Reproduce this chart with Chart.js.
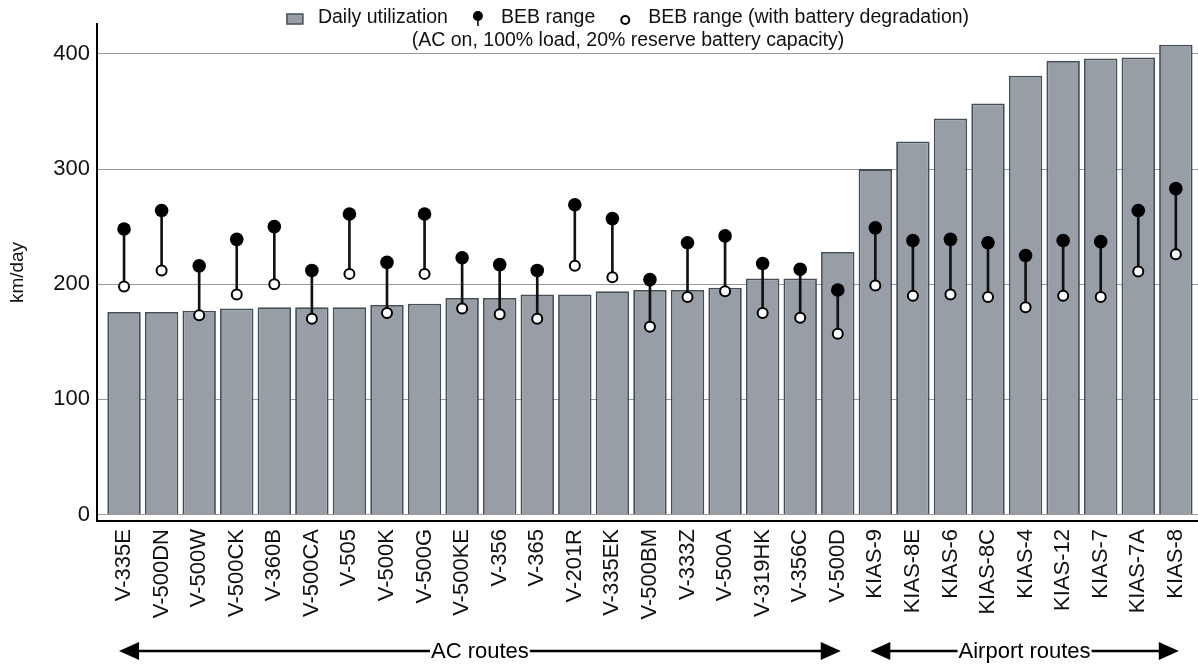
<!DOCTYPE html>
<html>
<head>
<meta charset="utf-8">
<title>Daily utilization and BEB range by route</title>
<script src="https://cdn.jsdelivr.net/npm/chart.js@4.4.0/dist/chart.umd.min.js"></script>
<style>
  html, body { margin: 0; padding: 0; background: #fff; overflow: hidden; }
  #wrap { position: relative; width: 1198px; height: 666px; }
  #chart { display: block; }
</style>
</head>
<body>
<div id="wrap"><canvas id="chart"></canvas></div>
<script>
// Routes, sorted by daily utilization (km/day)
const routes = [
    'V-335E', 'V-500DN', 'V-500W', 'V-500CK', 'V-360B', 'V-500CA', 'V-505',
    'V-500K', 'V-500G', 'V-500KE', 'V-356', 'V-365', 'V-201R', 'V-335EK',
    'V-500BM', 'V-333Z', 'V-500A', 'V-319HK', 'V-356C', 'V-500D',
    'KIAS-9', 'KIAS-8E', 'KIAS-6', 'KIAS-8C', 'KIAS-4', 'KIAS-12', 'KIAS-7',
    'KIAS-7A', 'KIAS-8'
];

const dailyKm = [
    176, 176, 177, 179, 180, 180, 180,
    182, 183, 188, 188, 191, 191, 194,
    195, 195, 197, 205, 205, 228,
    300, 324, 344, 357, 381, 394, 396,
    397, 408
];

const bebRange = [
    248, 264, 216, 239, 250, 212, 261,
    219, 261, 223, 217, 212, 269, 257,
    204, 236, 242, 218, 213, 195,
    249, 238, 239, 236, 225, 238, 237,
    264, 283
];

const bebRangeDegraded = [
    198, 212, 173, 191, 200, 170, 209,
    175, 209, 179, 174, 170, 216, 206,
    163, 189, 194, 175, 171, 157,
    199, 190, 191, 189, 180, 190, 189,
    211, 226
];

const yTickValues = [0, 100, 200, 300, 400];

const routeGroups = [
    { label: 'AC routes', from: 0, to: 19 },
    { label: 'Airport routes', from: 20, to: 28 }
];

const legendNote = '(AC on, 100% load, 20% reserve battery capacity)';

const FONT = '"Liberation Sans", Arial, Helvetica, sans-serif';
const INK = '#111';

const asPoints = (values) => values.map((v, i) => ({ x: i, y: v }));

// Legend drawn in the top margin (two rows, no layout space taken)
const topLegend = {
    id: 'topLegend',
    afterDraw(chart, args, opts) {
        const ctx = chart.ctx;
        const items = chart.data.datasets.filter(ds => ds.legendMark);
        ctx.save();
        ctx.font = `${opts.fontSize}px ${FONT}`;
        ctx.textBaseline = 'middle';
        ctx.fillStyle = INK;

        const widths = items.map(ds => ctx.measureText(ds.label).width);
        const total = widths.reduce((s, w) => s + opts.markWidth + opts.markGap + w, 0)
            + opts.itemGap * (items.length - 1);
        let x = opts.centerX - total / 2;
        const y = opts.rowY[0];

        items.forEach((ds, i) => {
            const mx = x + opts.markWidth / 2;
            if (ds.legendMark === 'box') {
                ctx.fillStyle = ds.backgroundColor;
                ctx.strokeStyle = ds.borderColor;
                ctx.lineWidth = 1.5;
                ctx.fillRect(x, y - 4, opts.markWidth, 10);
                ctx.strokeRect(x, y - 4, opts.markWidth, 10);
            } else if (ds.legendMark === 'pin') {
                ctx.strokeStyle = '#000';
                ctx.lineWidth = 1.5;
                ctx.beginPath();
                ctx.moveTo(mx, y - 2);
                ctx.lineTo(mx, y + 8);
                ctx.stroke();
                ctx.fillStyle = '#000';
                ctx.beginPath();
                ctx.arc(mx, y - 2, 5, 0, Math.PI * 2);
                ctx.fill();
            } else {
                ctx.fillStyle = '#fff';
                ctx.strokeStyle = '#000';
                ctx.lineWidth = 2;
                ctx.beginPath();
                ctx.arc(mx, y + 2, 4, 0, Math.PI * 2);
                ctx.fill();
                ctx.stroke();
            }
            x += opts.markWidth + opts.markGap;
            ctx.fillStyle = INK;
            ctx.textAlign = 'left';
            ctx.fillText(ds.label, x, y);
            x += widths[i] + opts.itemGap;
        });

        ctx.textAlign = 'center';
        ctx.fillText(opts.note, opts.centerX, opts.rowY[1]);
        ctx.restore();
    }
};

// Double-headed arrows under the route labels
const groupArrows = {
    id: 'groupArrows',
    afterDraw(chart, args, opts) {
        const ctx = chart.ctx;
        const xs = chart.scales.x;
        const y = opts.y;
        const head = 20, half = 9;
        ctx.save();
        ctx.font = `${opts.fontSize}px ${FONT}`;
        ctx.textAlign = 'center';
        ctx.textBaseline = 'middle';
        ctx.strokeStyle = '#000';
        ctx.fillStyle = '#000';
        ctx.lineWidth = 2.5;

        opts.groups.forEach(g => {
            const x1 = xs.getPixelForValue(g.from) - 5;
            const x2 = xs.getPixelForValue(g.to) + 3;
            const mid = (x1 + x2) / 2;
            const tw = ctx.measureText(g.label).width;

            ctx.beginPath();
            ctx.moveTo(x1 + head - 2, y);
            ctx.lineTo(mid - tw / 2 - 1, y);
            ctx.moveTo(mid + tw / 2 + 1, y);
            ctx.lineTo(x2 - head + 2, y);
            ctx.stroke();

            ctx.beginPath();
            ctx.moveTo(x1, y);
            ctx.lineTo(x1 + head, y - half);
            ctx.lineTo(x1 + head, y + half);
            ctx.closePath();
            ctx.fill();

            ctx.beginPath();
            ctx.moveTo(x2, y);
            ctx.lineTo(x2 - head, y - half);
            ctx.lineTo(x2 - head, y + half);
            ctx.closePath();
            ctx.fill();

            ctx.fillText(g.label, mid, y + 1);
        });
        ctx.restore();
    }
};

const ctx = document.getElementById('chart');

new Chart(ctx, {
    type: 'bar',
    data: {
        datasets: [
            {
                type: 'bar',
                label: 'Daily utilization',
                legendMark: 'box',
                data: asPoints(dailyKm),
                backgroundColor: '#979ea6',
                borderColor: '#434e58',
                borderWidth: 1.8,
                grouped: false,
                categoryPercentage: 1,
                barPercentage: 0.89,
                order: 3
            },
            {
                type: 'bar',
                label: 'range span',
                data: bebRange.map((v, i) => ({ x: i, y: [bebRangeDegraded[i], v] })),
                backgroundColor: '#111',
                borderWidth: 0,
                barThickness: 2,
                grouped: false,
                order: 2
            },
            {
                type: 'line',
                label: 'BEB range',
                legendMark: 'pin',
                data: asPoints(bebRange),
                showLine: false,
                pointRadius: 6.8,
                pointBackgroundColor: '#000',
                pointBorderColor: '#000',
                pointBorderWidth: 0,
                order: 1
            },
            {
                type: 'line',
                label: 'BEB range (with battery degradation)',
                legendMark: 'ring',
                data: asPoints(bebRangeDegraded),
                showLine: false,
                pointRadius: 5,
                pointBackgroundColor: '#fff',
                pointBorderColor: '#000',
                pointBorderWidth: 2,
                order: 0
            }
        ]
    },
    options: {
        responsive: true,
        maintainAspectRatio: false,
        animation: false,
        events: [],
        layout: {
            autoPadding: false,
            padding: { top: 24, left: 0, right: 0, bottom: 45 }
        },
        scales: {
            x: {
                type: 'linear',
                offset: false,
                min: -0.72,
                max: 28.59,
                grid: { display: false, drawTicks: false, offset: false },
                border: { display: true, color: '#000', width: 2 },
                afterBuildTicks: (scale) => {
                    scale.ticks = routes.map((_, i) => ({ value: i }));
                },
                afterFit: (scale) => {
                    scale.height = 100;
                    // the first/last labels sit well inside the plot, no extra margin needed
                    scale.paddingLeft = 0;
                    scale.paddingRight = 0;
                },
                ticks: {
                    autoSkip: false,
                    minRotation: 90,
                    maxRotation: 90,
                    padding: 8,
                    color: INK,
                    font: { family: FONT, size: 22 },
                    callback: (value) => routes[value]
                }
            },
            y: {
                type: 'linear',
                min: -5.6,
                max: 426,
                grid: { color: '#9a9a9a', lineWidth: 1, drawTicks: false },
                border: { display: true, color: '#000', width: 2 },
                afterBuildTicks: (scale) => {
                    scale.ticks = yTickValues.map(v => ({ value: v }));
                },
                afterFit: (scale) => { scale.width = 97; },
                ticks: {
                    padding: 7,
                    color: INK,
                    font: { family: FONT, size: 22 }
                },
                title: {
                    display: true,
                    text: 'km/day',
                    color: INK,
                    padding: { top: 6, bottom: 0 },
                    font: { family: FONT, size: 19 }
                }
            }
        },
        plugins: {
            legend: { display: false },
            tooltip: { enabled: false },
            topLegend: {
                centerX: 628,
                rowY: [18, 41],
                fontSize: 19.5,
                markWidth: 16,
                markGap: 15,
                itemGap: 22,
                note: legendNote
            },
            groupArrows: {
                y: 651,
                fontSize: 22,
                groups: routeGroups
            }
        }
    },
    plugins: [topLegend, groupArrows]
});
</script>
</body>
</html>
